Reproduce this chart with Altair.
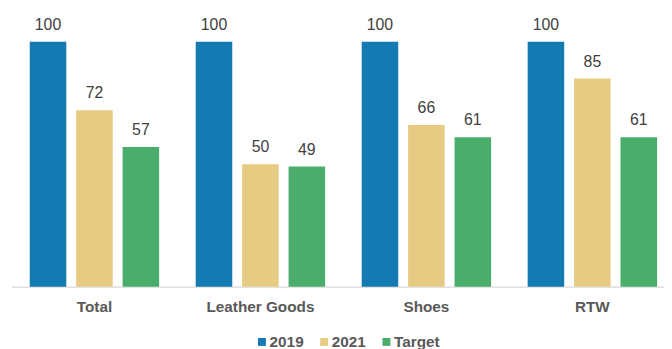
import altair as alt
import pandas as pd

categories = ["Total", "Leather Goods", "Shoes", "RTW"]
series = ["2019", "2021", "Target"]
values_2019 = [100, 100, 100, 100]
values_2021 = [72, 50, 66, 85]
values_target = [57, 49, 61, 61]
colors = ["#137BB1", "#E8CB82", "#4AAD6B"]

rows = []
for i, c in enumerate(categories):
    for s, vals in zip(series, [values_2019, values_2021, values_target]):
        rows.append({"category": c, "series": s, "value": vals[i]})
df = pd.DataFrame(rows)

FONT = "Liberation Sans, Arial, Helvetica, sans-serif"

x = alt.X(
    "category:N",
    sort=categories,
    scale=alt.Scale(paddingInner=0, paddingOuter=0),
    axis=alt.Axis(
        title=None,
        labelAngle=0,
        ticks=False,
        tickSize=0,
        labelPadding=13,
        labelFont=FONT,
        labelFontSize=15.5,
        labelFontWeight="bold",
        labelColor="#595959",
        domainColor="#D9D9D9",
        domainWidth=1.3,
        grid=False,
    ),
)
xoff = alt.XOffset(
    "series:N",
    sort=series,
    scale=alt.Scale(paddingInner=0.2128, paddingOuter=0.3936),
)
y = alt.Y("value:Q", scale=alt.Scale(domain=[0, 100]), axis=None)

base = alt.Chart(df)

bars = base.mark_bar().encode(
    x=x,
    xOffset=xoff,
    y=y,
    color=alt.Color(
        "series:N",
        sort=series,
        scale=alt.Scale(domain=series, range=colors),
        legend=alt.Legend(
            title=None,
            orient="none",
            direction="horizontal",
            legendX=245.8,
            legendY=295.8,
            symbolType="square",
            symbolSize=64,
            symbolStrokeWidth=0,
            symbolOpacity=1,
            labelFont=FONT,
            labelFontSize=15.5,
            labelFontWeight="bold",
            labelColor="#595959",
            labelOffset=0,
            columnPadding=13,
        ),
    ),
)

labels = base.mark_text(
    baseline="alphabetic",
    dy=-12,
    font=FONT,
    fontSize=16,
    color="#404040",
).encode(
    x=x,
    xOffset=xoff,
    y=y,
    text=alt.Text("value:Q"),
)

chart = (
    alt.layer(bars, labels)
    .properties(
        width=672,
        height=248,
        autosize=alt.AutoSizeParams(type="none"),
        padding={"left": 3.5, "top": 32, "right": -11.5, "bottom": 61},
    )
    .configure_view(stroke=None)
)

chart.save("out.html", embed_options={"renderer": "svg", "actions": False})
